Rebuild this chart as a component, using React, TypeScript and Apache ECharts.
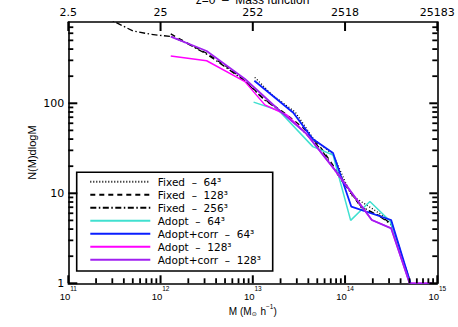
import React, { useEffect, useRef } from 'react';
import * as echarts from 'echarts';

// ---- data (mass in Msun/h, counts N(M)dlogM) ----
const seriesNames = [
  'Fixed\u00A0\u00A0\u2013\u00A0\u00A064\u00B3',
  'Fixed\u00A0\u00A0\u2013\u00A0\u00A0128\u00B3',
  'Fixed\u00A0\u00A0\u2013\u00A0\u00A0256\u00B3',
  'Adopt\u00A0\u00A0\u2013\u00A0\u00A064\u00B3',
  'Adopt+corr\u00A0\u00A0\u2013\u00A0\u00A064\u00B3',
  'Adopt\u00A0\u00A0\u2013\u00A0\u00A0128\u00B3',
  'Adopt+corr\u00A0\u00A0\u2013\u00A0\u00A0128\u00B3',
];

const fixed64Mass = [1.05e13, 1.62e13, 2.88e13, 4.57e13, 7.41e13, 1.17e14, 1.95e14, 3.16e14, 5.13e14];
const fixed64Count = [194, 124, 80, 40, 27, 9.5, 6.8, 4.9, 1];

const fixed128Mass = [1.29e12, 2.0e12, 3.16e12, 5.13e12, 8.13e12, 1.32e13, 2.14e13, 3.47e13, 5.62e13, 9.12e13, 1.48e14, 2.4e14, 3.16e14, 5.13e14];
const fixed128Count = [590, 460, 360, 258, 180, 112, 80, 54, 31, 15, 7, 5.6, 4.6, 1];

const fixed256Mass = [2.51e11, 5.01e11, 7.76e11, 1.32e12, 2.0e12, 3.16e12, 5.13e12, 8.13e12, 1.32e13, 2.14e13, 3.47e13, 5.62e13, 9.12e13, 1.48e14, 2.4e14, 3.16e14, 5.13e14];
const fixed256Count = [910, 636, 585, 550, 455, 352, 250, 178, 110, 78, 50, 30, 14, 7.2, 5.5, 4.5, 1];

const adopt64Mass = [1.02e13, 1.91e13, 4.47e13, 7.41e13, 1.15e14, 1.86e14, 3.09e14, 5.01e14];
const adopt64Count = [103, 83, 33, 26.6, 5.0, 8.1, 4.9, 1];

const adoptCorr64Mass = [1.04e13, 2.75e13, 4.47e13, 7.41e13, 1.17e14, 3.16e14, 5.13e14];
const adoptCorr64Count = [178, 78.6, 40, 28, 7.1, 5.05, 1];

const adopt128Mass = [1.29e12, 3.16e12, 8.22e12, 1.35e13, 2.34e13, 3.8e13, 7.76e13, 1.95e14, 3.16e14, 5.01e14, 8.71e14];
const adopt128Count = [336, 297, 174, 96, 74, 46, 18, 5.05, 4.1, 1, 1];

const adoptCorr128Mass = [1.29e12, 3.16e12, 8.22e12, 2.0e13, 3.8e13, 7.76e13, 1.95e14, 3.16e14, 5.01e14, 8.71e14];
const adoptCorr128Count = [550, 381, 186, 81, 46, 18.2, 5.05, 4.08, 1, 1];

// ---- axes ----
const xMin = 1e11;
const xMax = 1e15;
const yMin = 1;
const yMax = 800;
const topTickLabels = ['2.5', '25', '252', '2518', '25183'];
const xMajorTicks = [1e11, 1e12, 1e13, 1e14, 1e15];
const yMajorTicks = [1, 10, 100];
const xMinorDecades = [1e11, 1e12, 1e13, 1e14];
const yMinorDecades = [1, 10, 100];
const minorMultipliers = [2, 3, 4, 5, 6, 7, 8, 9];

const seriesMass = [fixed64Mass, fixed128Mass, fixed256Mass, adopt64Mass, adoptCorr64Mass, adopt128Mass, adoptCorr128Mass];
const seriesCount = [fixed64Count, fixed128Count, fixed256Count, adopt64Count, adoptCorr64Count, adopt128Count, adoptCorr128Count];
const seriesColors = ['#000000', '#000000', '#000000', '#40E0D0', '#0A1EFF', '#FF00FF', '#A020F0'];
const seriesDash: any[] = [[1, 2], [5, 4], [6, 2.5, 1.5, 2.5], 'solid', 'solid', 'solid', 'solid'];
const seriesWidth = [1.3, 1.3, 1.3, 1.5, 1.8, 1.5, 1.8];

export default function App() {
  const ref = useRef<HTMLDivElement>(null);
  useEffect(() => {
    if (!ref.current) return;
    const chart = echarts.init(ref.current, undefined, { renderer: 'svg' });

    const lineC = { color: '#000', width: 1.6 };
    const isPow10 = (v: number) => Math.abs(Math.log10(v) - Math.round(Math.log10(v))) < 1e-6;

    const xMinorVals: number[] = [];
    xMinorDecades.forEach((d) => minorMultipliers.forEach((m) => xMinorVals.push(m * d)));
    const yMinorVals: number[] = [];
    yMinorDecades.forEach((d) => minorMultipliers.forEach((m) => { if (m * d < yMax) yMinorVals.push(m * d); }));

    const tickSeries = (data: number[][], size: number[], offset: number[]) => ({
      type: 'scatter',
      xAxisIndex: 0,
      yAxisIndex: 0,
      silent: true,
      clip: false,
      z: 5,
      symbol: 'rect',
      symbolSize: size,
      symbolOffset: offset,
      itemStyle: { color: '#000', opacity: 1 },
      emphasis: { disabled: true },
      data,
    });

    const option: any = {
      animation: false,
      backgroundColor: '#fff',
      textStyle: { fontFamily: 'DejaVu Sans' },
      grid: { left: 68.3, right: 20.7, top: 22, bottom: 43.7, containLabel: false },
      graphic: [
        {
          type: 'text',
          x: 252.5,
          y: 0,
          style: {
            text: 'z=0\u00A0\u00A0\u2013\u00A0\u00A0Mass function',
            fontFamily: 'Liberation Sans',
            fontSize: 12,
            fill: '#000',
            align: 'center',
            verticalAlign: 'middle',
          },
        },
        {
          type: 'rect',
          shape: { x: 76.7, y: 172.3, width: 196, height: 98.7 },
          style: { fill: 'none', stroke: '#000', lineWidth: 1.6 },
          z: 10,
        },
      ],
      legend: {
        orient: 'vertical',
        left: 76.7,
        top: 172.3,
        padding: [2.9, 6, 4, 12.6],
        itemWidth: 60,
        itemHeight: 13,
        itemGap: 0,
        selectedMode: false,
        data: seriesNames,
        itemStyle: { color: 'rgba(0,0,0,0)', borderWidth: 0, opacity: 0 },
        textStyle: { fontFamily: 'DejaVu Sans', fontSize: 10.5, color: '#000', lineHeight: 13, padding: [0, 0, 0, 2.5] },
      },
      xAxis: [
        {
          type: 'log',
          min: xMin,
          max: xMax,
          position: 'bottom',
          axisLine: { show: true, onZero: false, lineStyle: lineC },
          axisTick: { show: false },
          splitLine: { show: false },
          axisLabel: {
            margin: 1.5,
            formatter: (v: number) => `{b|10}{s|${Math.round(Math.log10(v))}}`,
            rich: {
              b: { fontFamily: 'Liberation Sans', fontSize: 9.5, color: '#000', lineHeight: 17, verticalAlign: 'bottom' },
              s: { fontFamily: 'Liberation Sans', fontSize: 6.5, color: '#000', lineHeight: 7, verticalAlign: 'top' },
            },
          },
          name: '{m|M (M}{sub|\u2299}{m| h}{sup|\u22121}{m|)}',
          nameLocation: 'middle',
          nameGap: 19.5,
          nameMoveOverlap: false,
          nameTextStyle: {
            rich: {
              m: { fontFamily: 'Liberation Sans', fontSize: 10, color: '#000', lineHeight: 14, verticalAlign: 'bottom' },
              sub: { fontFamily: 'DejaVu Sans', fontSize: 6, color: '#000', lineHeight: 8, verticalAlign: 'bottom', padding: [0, 1, 0, 0] },
              sup: { fontFamily: 'Liberation Sans', fontSize: 6.5, color: '#000', lineHeight: 7, verticalAlign: 'top' },
            },
          },
        },
        {
          type: 'log',
          min: xMin,
          max: xMax,
          position: 'top',
          axisLine: { show: true, onZero: false, lineStyle: lineC },
          axisTick: { show: false },
          splitLine: { show: false },
          axisLabel: {
            margin: 4,
            fontFamily: 'DejaVu Sans',
            fontSize: 11,
            color: '#000',
            formatter: (v: number) => topTickLabels[Math.round(Math.log10(v)) - 11] ?? '',
          },
        },
      ],
      yAxis: [
        {
          type: 'log',
          min: yMin,
          max: yMax,
          position: 'left',
          axisLine: { show: true, onZero: false, lineStyle: lineC },
          axisTick: { show: false },
          splitLine: { show: false },
          axisLabel: {
            margin: 4,
            fontFamily: 'DejaVu Sans',
            fontSize: 11,
            color: '#000',
            formatter: (v: number) => (isPow10(v) ? String(Math.round(v)) : ''),
          },
          name: 'N(M)dlogM',
          nameLocation: 'middle',
          nameRotate: 90,
          nameGap: 31,
          nameMoveOverlap: false,
          nameTextStyle: { fontFamily: 'Liberation Sans', fontSize: 11, color: '#000' },
        },
        {
          type: 'log',
          min: yMin,
          max: yMax,
          position: 'right',
          axisLine: { show: true, onZero: false, lineStyle: lineC },
          axisTick: { show: false },
          splitLine: { show: false },
          axisLabel: { show: false },
        },
      ],
      series: [
        ...seriesNames.map((name, i) => ({
          name,
          type: 'line',
          xAxisIndex: 0,
          yAxisIndex: 0,
          symbol: 'none',
          showSymbol: false,
          clip: true,
          color: seriesColors[i],
          lineStyle: { color: seriesColors[i], width: seriesWidth[i], type: seriesDash[i] },
          data: seriesMass[i].map((m, j) => [m, seriesCount[i][j]]),
        })),
        tickSeries(xMajorTicks.map((v) => [v, yMin]), [2, 8], [0, -4]),
        tickSeries(xMinorVals.map((v) => [v, yMin]), [1.8, 5], [0, -2.5]),
        tickSeries(xMajorTicks.map((v) => [v, yMax]), [2, 9], [0, 4.5]),
        tickSeries(yMajorTicks.map((v) => [xMin, v]), [9, 2], [4.5, 0]),
        tickSeries(yMinorVals.map((v) => [xMin, v]), [5, 1.8], [2.5, 0]),
        tickSeries(yMajorTicks.map((v) => [xMax, v]), [8, 2], [-4, 0]),
        tickSeries(yMinorVals.map((v) => [xMax, v]), [5, 1.8], [-2.5, 0]),
      ],
    };

    chart.setOption(option);
    return () => chart.dispose();
  }, []);

  return (
    <div
      ref={ref}
      style={{ position: 'fixed', left: 0, top: 0, width: 458, height: 327, background: '#fff' }}
    />
  );
}
